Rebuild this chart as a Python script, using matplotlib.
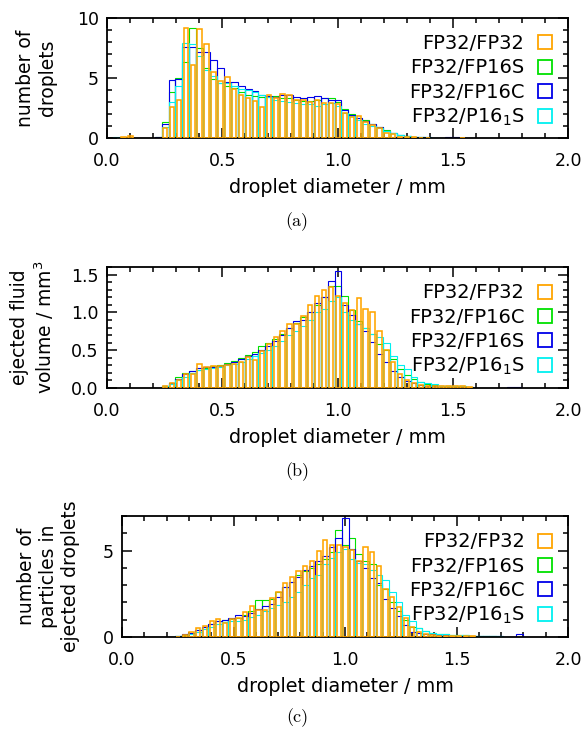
import numpy as np
import matplotlib
matplotlib.use("Agg")
import matplotlib.pyplot as plt
from matplotlib.lines import Line2D
from matplotlib.ticker import MultipleLocator, FormatStrFormatter

# ---------------- data ----------------
bin_width = 0.03          # mm
first_center = 0.012      # mm, centre of first bin

# panel (a): number of droplets
orange_a = [0, 0, 0.05, 0.2, 0, 0, 0, 0,
            0.8, 2.6, 3.2, 9.2, 6.1, 9.1, 7.8, 5.5, 4.75, 5.1, 4.1, 3.6,
            3.3, 3.1, 2.6, 3.6, 3.3, 3.7, 3.6, 3.2, 3.2, 3.0,
            3.15, 2.9, 2.9, 2.8, 2.1, 1.75, 1.8, 1.35, 1.08, 0.8,
            0.4, 0.3, 0.12, 0.08, 0.05, 0.03, 0.03, 0, 0, 0,
            0, 0.03, 0, 0, 0, 0, 0, 0, 0, 0, 0]
green_a = [0, 0, 0, 0, 0, 0, 0, 0.05,
           1.3, 3.8, 5.0, 6.3, 9.2, 7.5, 5.8, 4.9, 4.6, 4.3, 4.2, 3.8,
           3.6, 3.5, 3.4, 3.4, 3.5, 3.3, 3.3, 3.2, 3.1, 3.1,
           3.2, 3.3, 3.3, 3.0, 2.4, 2.0, 1.7, 1.5, 1.2, 0.9,
           0.65, 0.4, 0.25, 0.15, 0.1, 0.06, 0.04, 0.03, 0.02, 0.02,
           0.01, 0.01, 0, 0, 0, 0, 0, 0, 0, 0, 0]
blue_a = [0, 0, 0, 0, 0, 0, 0, 0.05,
          1.2, 4.8, 4.9, 7.6, 7.6, 7.2, 7.2, 6.5, 5.8, 4.7, 4.7, 4.3,
          4.1, 3.9, 3.6, 3.5, 3.4, 3.6, 3.6, 3.4, 3.3, 3.4,
          3.5, 3.3, 3.2, 3.2, 2.3, 1.9, 1.7, 1.4, 1.2, 0.9,
          0.6, 0.4, 0.25, 0.15, 0.1, 0.08, 0.05, 0.04, 0.03, 0.05,
          0.05, 0.03, 0.02, 0, 0, 0, 0, 0, 0.03, 0, 0]
cyan_a = [0, 0.05, 0.1, 0, 0, 0, 0, 0,
          0.9, 3.0, 4.3, 7.9, 7.8, 6.8, 5.7, 5.2, 4.6, 4.6, 4.3, 4.1,
          4.0, 3.8, 3.6, 3.4, 3.2, 3.1, 3.0, 2.9, 2.8, 2.8,
          2.7, 2.8, 2.9, 2.7, 2.1, 1.8, 1.5, 1.2, 1.0, 0.8,
          0.6, 0.4, 0.25, 0.15, 0.1, 0.05, 0.05, 0.03, 0.02, 0.02,
          0, 0, 0, 0, 0, 0, 0, 0, 0, 0, 0]

# panel (b): ejected fluid volume / mm^3
orange_b = [0, 0, 0, 0, 0, 0, 0, 0,
            0.02, 0.06, 0.1, 0.19, 0.18, 0.32, 0.28, 0.29, 0.29, 0.31, 0.32, 0.34,
            0.41, 0.37, 0.49, 0.585, 0.675, 0.76, 0.85, 0.84, 0.95, 1.1,
            1.21, 1.3, 1.33, 1.22, 1.13, 1.03, 1.19, 1.05, 1.0, 0.75,
            0.5, 0.35, 0.19, 0.11, 0.06, 0.04, 0.03, 0.02, 0.02, 0.02,
            0.03, 0.03, 0.01, 0, 0, 0, 0, 0, 0, 0, 0]
green_b = [0, 0, 0, 0, 0, 0, 0, 0,
           0.03, 0.07, 0.14, 0.2, 0.22, 0.24, 0.27, 0.29, 0.31, 0.33, 0.36, 0.40,
           0.44, 0.48, 0.55, 0.6, 0.65, 0.72, 0.80, 0.86, 0.94, 1.0,
           1.1, 1.2, 1.35, 1.35, 1.21, 1.03, 0.88, 0.80, 0.72, 0.58,
           0.50, 0.38, 0.25, 0.17, 0.12, 0.08, 0.05, 0.04, 0.03, 0.02,
           0.02, 0.02, 0.01, 0, 0, 0, 0, 0, 0, 0, 0]
blue_b = [0, 0, 0, 0, 0, 0, 0, 0,
          0.03, 0.06, 0.12, 0.18, 0.22, 0.27, 0.28, 0.28, 0.29, 0.32, 0.34, 0.38,
          0.42, 0.45, 0.50, 0.56, 0.62, 0.70, 0.80, 0.88, 0.90, 1.0,
          1.12, 1.2, 1.41, 1.55, 1.1, 0.97, 0.85, 0.76, 0.61, 0.45,
          0.35, 0.23, 0.14, 0.09, 0.06, 0.04, 0.03, 0.03, 0.02, 0.02,
          0.02, 0.01, 0.01, 0, 0, 0, 0, 0, 0.01, 0.015, 0]
cyan_b = [0, 0, 0, 0, 0, 0, 0, 0,
          0.02, 0.05, 0.1, 0.15, 0.2, 0.24, 0.25, 0.26, 0.28, 0.30, 0.32, 0.34,
          0.38, 0.42, 0.46, 0.5, 0.55, 0.62, 0.7, 0.75, 0.82, 0.9,
          1.0, 1.05, 1.15, 1.2, 1.0, 0.9, 0.85, 0.8, 0.72, 0.68,
          0.6, 0.42, 0.3, 0.25, 0.14, 0.08, 0.06, 0.05, 0.03, 0.03,
          0.02, 0.02, 0.01, 0, 0, 0, 0, 0, 0, 0, 0]

# panel (c): number of particles in ejected droplets
orange_c = [0, 0, 0, 0, 0, 0, 0, 0,
            0.02, 0.1, 0.3, 0.53, 0.63, 0.94, 1.05, 0.8, 1.07, 1.1, 1.45, 1.8,
            1.55, 1.55, 2.28, 2.63, 3.1, 3.5, 3.8, 4.1, 4.4, 5.0,
            5.6, 5.3, 5.3, 5.2, 5.05, 4.4, 5.2, 4.9, 4.1, 2.8,
            2.3, 1.75, 1.1, 0.57, 0.3, 0.15, 0.1, 0.08, 0.05, 0.05,
            0.03, 0.05, 0.03, 0, 0, 0, 0, 0, 0, 0, 0]
green_c = [0, 0, 0, 0, 0, 0, 0, 0,
           0.05, 0.12, 0.25, 0.4, 0.6, 0.75, 0.9, 1.0, 1.05, 1.1, 1.3, 1.5,
           2.15, 2.15, 2.2, 2.6, 2.9, 3.2, 3.6, 3.8, 4.0, 4.2,
           4.5, 4.9, 6.2, 5.3, 5.7, 4.8, 4.4, 4.2, 3.0, 2.8,
           2.0, 1.5, 1.0, 0.6, 0.5, 0.35, 0.25, 0.2, 0.15, 0.12,
           0.1, 0.1, 0.08, 0.05, 0.05, 0.03, 0, 0, 0, 0, 0]
blue_c = [0, 0, 0, 0, 0, 0, 0, 0,
          0.05, 0.15, 0.25, 0.4, 0.55, 0.75, 0.9, 1.0, 1.1, 1.25, 1.2, 1.4,
          1.6, 1.8, 1.9, 2.3, 2.9, 3.2, 3.5, 3.9, 4.1, 4.4,
          4.7, 5.2, 5.7, 6.9, 5.1, 4.4, 4.0, 3.4, 3.1, 2.2,
          1.7, 1.2, 0.7, 0.3, 0.25, 0.2, 0.15, 0.12, 0.1, 0.08,
          0.06, 0.05, 0.05, 0.04, 0.04, 0.03, 0.03, 0.02, 0.02, 0.2, 0]
cyan_c = [0, 0, 0, 0, 0, 0, 0, 0,
          0.03, 0.08, 0.15, 0.3, 0.45, 0.6, 0.75, 0.85, 0.9, 0.95, 1.0, 1.15,
          1.3, 1.5, 1.7, 1.85, 2.0, 2.3, 2.6, 3.0, 3.4, 3.6,
          4.2, 4.55, 4.9, 5.1, 4.5, 4.3, 4.2, 3.9, 3.6, 3.3,
          2.6, 2.0, 1.3, 0.9, 0.5, 0.35, 0.25, 0.2, 0.15, 0.12,
          0.1, 0.1, 0.08, 0.06, 0.05, 0.04, 0.03, 0, 0, 0, 0]

labels_a = ["FP32/FP32", "FP32/FP16S", "FP32/FP16C", "FP32/P16$_1$S"]
labels_b = ["FP32/FP32", "FP32/FP16C", "FP32/FP16S", "FP32/P16$_1$S"]
labels_c = ["FP32/FP32", "FP32/FP16S", "FP32/FP16C", "FP32/P16$_1$S"]

x_ticks = [0.0, 0.5, 1.0, 1.5, 2.0]

# ---------------- style ----------------
C_OR = "#ffa500"
C_GR = "#00e000"
C_BL = "#0000e8"
C_CY = "#00f0f0"

plt.rcParams["font.family"] = ["DejaVu Sans"]
fig = plt.figure(figsize=(5.85, 7.33), dpi=100)

W, H = 585.0, 733.0
ax_a = fig.add_axes([107 / W, 1 - 138 / H, 461 / W, 120 / H])
ax_b = fig.add_axes([107 / W, 1 - 388 / H, 461 / W, 121 / H])
ax_c = fig.add_axes([122 / W, 1 - 637 / H, 446 / W, 121 / H])


def draw_panel(ax, orange, others, labels, ymax, ymaj, ymin, yfmt, ylabel,
               ylab_x, leg_x):
    n = len(orange)
    centers = first_center + bin_width * np.arange(n)
    cols = [C_GR, C_BL, C_CY]
    for vals, col in zip(others, cols):
        v = np.asarray(vals, float)
        m = v > 0
        ax.bar(centers[m], v[m], width=bin_width, fill=False,
               edgecolor=col, linewidth=0.8, zorder=2)
    v = np.asarray(orange, float)
    m = v > 0
    ax.bar(centers[m], v[m], width=0.019, fill=False, edgecolor=C_OR,
           linewidth=1.15, zorder=3)

    ax.set_xlim(0, 2.0)
    ax.set_ylim(0, ymax)
    ax.set_xticks(x_ticks)
    ax.xaxis.set_major_formatter(FormatStrFormatter("%.1f"))
    ax.xaxis.set_minor_locator(MultipleLocator(0.1))
    ax.yaxis.set_major_locator(MultipleLocator(ymaj))
    ax.yaxis.set_minor_locator(MultipleLocator(ymin))
    ax.yaxis.set_major_formatter(FormatStrFormatter(yfmt))
    ax.tick_params(which="both", direction="in", top=True, right=True,
                   width=1.1, labelsize=12.5)
    ax.tick_params(which="major", length=7.5)
    ax.tick_params(which="minor", length=3.8)
    ax.tick_params(axis="x", pad=10)
    ax.tick_params(axis="y", pad=6)
    for s in ax.spines.values():
        s.set_linewidth(1.3)

    ax.set_xlabel("droplet diameter / mm", fontsize=13.8)
    ax.xaxis.set_label_coords(0.5, -0.33)
    ax.set_ylabel(ylabel, fontsize=13.5, linespacing=1.2)
    ax.yaxis.set_label_coords(ylab_x, 0.5)

    handles = [Line2D([], [], marker="s", markersize=10.5, markerfacecolor="white",
                      markeredgecolor=c, markeredgewidth=1.3, linestyle="none")
               for c in [C_OR, C_GR, C_BL, C_CY]]
    ax.legend(handles, labels, loc="upper left", bbox_to_anchor=(leg_x, 0.865),
              frameon=False, markerfirst=False, fontsize=14, borderpad=0,
              borderaxespad=0, labelspacing=0.27, handlelength=1.0,
              handletextpad=0.55)


draw_panel(ax_a, orange_a, [green_a, blue_a, cyan_a], labels_a, 10, 5, 1, "%d",
           "number of\ndroplets", -0.108, 0.655)
draw_panel(ax_b, orange_b, [green_b, blue_b, cyan_b], labels_b, 1.6, 0.5, 0.1,
           "%.1f", "ejected fluid\nvolume / mm$^3$", -0.11, 0.655)
draw_panel(ax_c, orange_c, [green_c, blue_c, cyan_c], labels_c, 7, 5, 1, "%d",
           "number of\nparticles in\nejected droplets", -0.095, 0.644)

for lab, y in [("(a)", 222), ("(b)", 472), ("(c)", 718)]:
    fig.text(297 / W, 1 - y / H, lab, ha="center", va="center",
             fontsize=13, family="cmr10")

fig.savefig("out.png", dpi=100)
